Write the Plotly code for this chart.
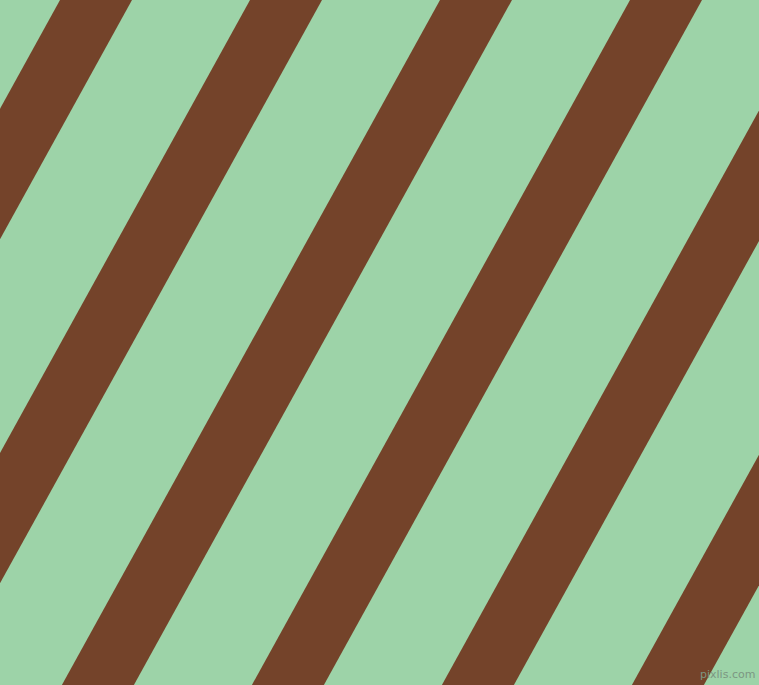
import plotly.graph_objects as go

# Canvas
W, H = 759, 685
background_color = "#9DD3A8"
stripe_color = "#74432A"

# Stripes: x where each stripe's left edge meets the top edge (pixels)
stripe_top_left = [-130, 60, 250, 440, 630, 820, 1010]
stripe_width = [72, 72, 72, 72, 72, 72, 72]   # horizontal width of each stripe
slope_dx_per_dy = 0.552                         # stripes run down-left

fig = go.Figure()
for x0, w in zip(stripe_top_left, stripe_width):
    shift = slope_dx_per_dy * H
    xs = [x0, x0 + w, x0 + w - shift, x0 - shift, x0]
    ys = [0, 0, H, H, 0]
    fig.add_trace(go.Scatter(
        x=xs, y=ys, mode="lines", fill="toself",
        fillcolor=stripe_color, line=dict(width=0, color=stripe_color),
        hoverinfo="skip", showlegend=False,
    ))

fig.add_annotation(
    x=757, y=683, xref="x", yref="y", xanchor="right", yanchor="bottom",
    text="pixlis.com", showarrow=False,
    font=dict(family="DejaVu Sans", size=11, color="#7C9682"),
)

fig.update_layout(
    width=W, height=H, autosize=False,
    margin=dict(l=0, r=0, t=0, b=0, pad=0),
    paper_bgcolor=background_color, plot_bgcolor=background_color,
    xaxis=dict(range=[0, W], visible=False, fixedrange=True),
    yaxis=dict(range=[H, 0], visible=False, fixedrange=True),
)

fig.write_html("out.html", config={"displayModeBar": False},
               post_script="document.body.style.margin='0';document.body.style.overflow='hidden';")
